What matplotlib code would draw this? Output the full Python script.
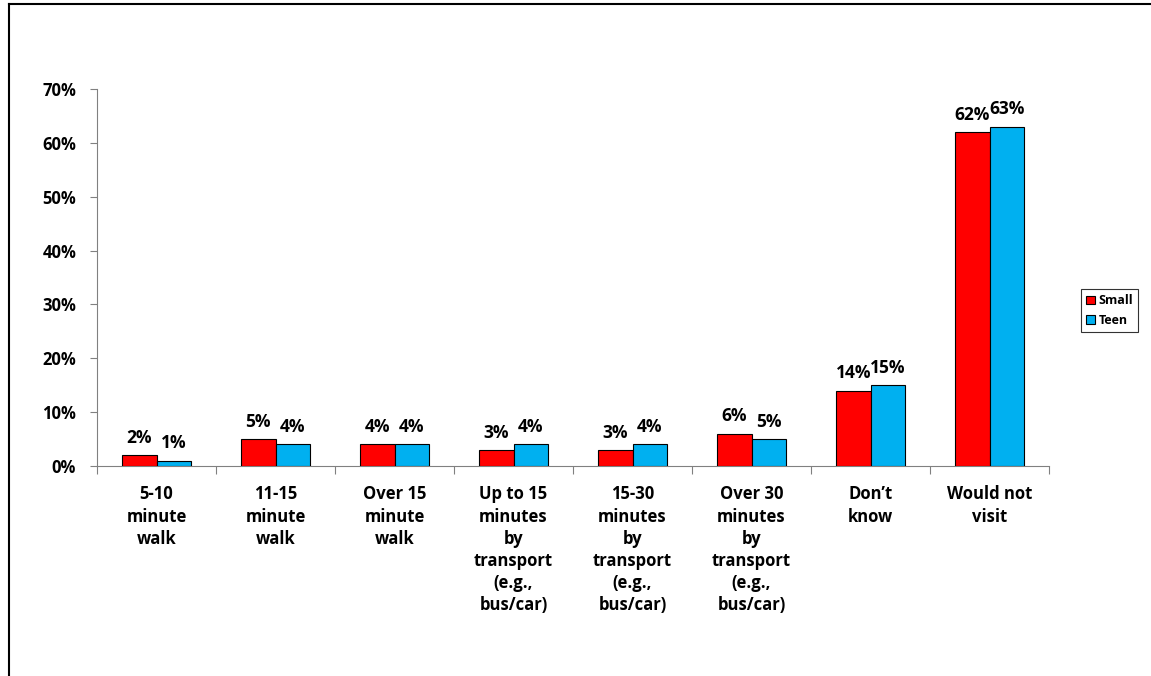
import numpy as np
import matplotlib.pyplot as plt
from matplotlib.lines import Line2D

categories = ['5-10\nminute\nwalk', '11-15\nminute\nwalk', 'Over 15\nminute\nwalk',
              'Up to 15\nminutes\nby\ntransport\n(e.g.,\nbus/car)',
              '15-30\nminutes\nby\ntransport\n(e.g.,\nbus/car)',
              'Over 30\nminutes\nby\ntransport\n(e.g.,\nbus/car)',
              'Don\u2019t\nknow', 'Would not\nvisit']
small = [2, 5, 4, 3, 3, 6, 14, 62]
teen = [1, 4, 4, 4, 4, 5, 15, 63]
series_names = ['Small', 'Teen']
colors = ['#FF0000', '#00B0F0']
yticks = [0, 10, 20, 30, 40, 50, 60, 70]

plt.rcParams['font.family'] = ['Open Sans', 'DejaVu Sans']
plt.rcParams['font.weight'] = 'bold'

fig = plt.figure(figsize=(11.51, 6.76), dpi=100)
ax = fig.add_axes([97/1151, 1-466/676, (1049-97)/1151, (466-89)/676])

x = np.arange(len(categories))
w = 0.29
b1 = ax.bar(x - w/2, small, w, color=colors[0], edgecolor='black', linewidth=0.8, label=series_names[0], zorder=3)
b2 = ax.bar(x + w/2, teen, w, color=colors[1], edgecolor='black', linewidth=0.8, label=series_names[1], zorder=3)
for bars, vals in [(b1, small), (b2, teen)]:
    for r, v in zip(bars, vals):
        ax.annotate(f'{v}%', (r.get_x() + r.get_width()/2, v), xytext=(0, 6),
                    textcoords='offset points', ha='center', va='bottom',
                    fontsize=12.5, fontweight='bold')

ax.set_xlim(-0.5, len(categories) - 0.5)
ax.set_ylim(0, 70)
ax.set_yticks(yticks)
ax.set_yticklabels([f'{t}%' for t in yticks], fontsize=12, fontweight='bold')
ax.set_xticks(np.arange(len(categories) + 1) - 0.5)
ax.set_xticklabels([])
ax.tick_params(axis='x', length=6, color='#808080')
ax.tick_params(axis='y', length=5, color='#808080', pad=10)
for i, c in enumerate(categories):
    ax.text(i, -3.6, c, ha='center', va='top', fontsize=12, fontweight='bold',
            linespacing=1.3)
for s in ['top', 'right']:
    ax.spines[s].set_visible(False)
for s in ['left', 'bottom']:
    ax.spines[s].set_color('#808080')

leg = fig.legend(loc='upper left', bbox_to_anchor=(1075/1151, 1-283/676),
                 fontsize=9, frameon=True, fancybox=False, edgecolor='black',
                 handlelength=0.7, handleheight=0.7, handletextpad=0.3,
                 borderpad=0.4, labelspacing=0.5)
leg.get_frame().set_linewidth(0.8)

# outer border (top and left)
fig.add_artist(Line2D([9/1151, 1], [1-4/676, 1-4/676], color='black', lw=1.5))
fig.add_artist(Line2D([9/1151, 9/1151], [0, 1-4/676], color='black', lw=1.5))

fig.savefig('out.png', dpi=100)
